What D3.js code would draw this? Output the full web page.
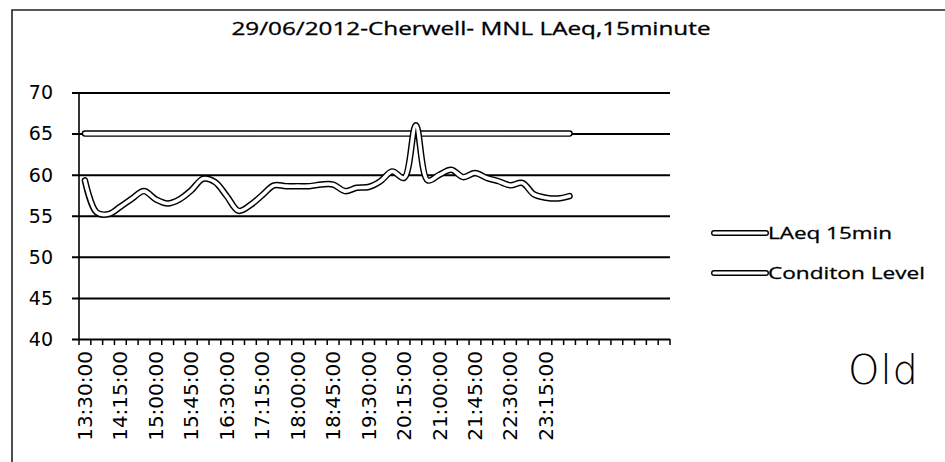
<!DOCTYPE html>
<html>
<head>
<meta charset="utf-8">
<script src="https://cdn.jsdelivr.net/npm/d3@7"></script>
<style>
  body { margin: 0; background: #fff; }
  text { fill: #000; }
</style>
</head>
<body>
<div id="chart"></div>
<script>
/*=====================================================================
 data
======================================================================*/
var chartTitle = "29/06/2012-Cherwell- MNL LAeq,15minute";

// time slots with data (15 minute steps)
var times = ["13:30:00", "13:45:00", "14:00:00", "14:15:00", "14:30:00", "14:45:00",
    "15:00:00", "15:15:00", "15:30:00", "15:45:00", "16:00:00", "16:15:00",
    "16:30:00", "16:45:00", "17:00:00", "17:15:00", "17:30:00", "17:45:00",
    "18:00:00", "18:15:00", "18:30:00", "18:45:00", "19:00:00", "19:15:00",
    "19:30:00", "19:45:00", "20:00:00", "20:15:00", "20:30:00", "20:45:00",
    "21:00:00", "21:15:00", "21:30:00", "21:45:00", "22:00:00", "22:15:00",
    "22:30:00", "22:45:00", "23:00:00", "23:15:00", "23:30:00", "23:45:00"];

// empty category cells at the end of the axis
var blankSlots = ["", "", "", "", "", "", "", ""];

var laeq = [59.3, 55.4, 55.2, 56.1, 57.1, 58.0, 57.0, 56.5, 57.0, 58.1,
    59.5, 59.1, 57.4, 55.6, 56.3, 57.5, 58.7, 58.6, 58.6, 58.6,
    58.8, 58.8, 58.0, 58.4, 58.5, 59.2, 60.4, 59.6, 66.0, 59.3,
    60.0, 60.6, 59.7, 60.2, 59.6, 59.2, 58.7, 59.0, 57.6, 57.2,
    57.1, 57.4];

var conditionLevel = [65, 65, 65, 65, 65, 65, 65, 65, 65, 65,
    65, 65, 65, 65, 65, 65, 65, 65, 65, 65,
    65, 65, 65, 65, 65, 65, 65, 65, 65, 65,
    65, 65, 65, 65, 65, 65, 65, 65, 65, 65,
    65, 65];

var yTicks = [40, 45, 50, 55, 60, 65, 70];
var seriesNames = ["LAeq 15min", "Conditon Level"];

/*=====================================================================
 setup
======================================================================*/
var width = 945, height = 462;
var plotLeft = 79, plotRight = 670, plotTop = 92.5, plotBottom = 339;

var categories = times.concat(blankSlots);

var svg = d3.select("#chart").append("svg")
    .attr("width", width)
    .attr("height", height);

var x = d3.scaleBand().domain(d3.range(categories.length)).range([plotLeft, plotRight]);
var y = d3.scaleLinear().domain([40, 70]).range([plotBottom, plotTop]);

// scanned frame (top + left edge only)
svg.append("path")
    .attr("d", "M12," + height + "V10H" + width)
    .attr("fill", "none")
    .attr("stroke", "#222")
    .attr("stroke-width", 1.6);

svg.append("text")
    .attr("x", 471)
    .attr("y", 35)
    .attr("text-anchor", "middle")
    .attr("font-family", "Open Sans")
    .attr("font-size", 18)
    .attr("stroke", "#000")
    .attr("stroke-width", 0.3)
    .attr("textLength", 479)
    .attr("lengthAdjust", "spacingAndGlyphs")
    .text(chartTitle);

/*=====================================================================
 gridlines + axes
======================================================================*/
var gy = svg.append("g")
    .attr("transform", "translate(" + plotRight + ",0)")
    .call(d3.axisLeft(y).tickValues(yTicks).tickSize(plotRight - plotLeft + 7).tickFormat(""));
gy.select(".domain").remove();
gy.selectAll("line").attr("stroke", "#000").attr("stroke-width", 2);

svg.selectAll(".ylab")
    .data(yTicks)
    .enter().append("text")
    .attr("class", "ylab")
    .attr("x", 53)
    .attr("y", function (d) { return y(d); })
    .attr("dy", "0.36em")
    .attr("text-anchor", "end")
    .attr("font-family", "DejaVu Sans")
    .attr("font-size", 19)
    .text(function (d) { return d; });

// y axis line
svg.append("line")
    .attr("x1", plotLeft).attr("x2", plotLeft)
    .attr("y1", plotTop).attr("y2", plotBottom)
    .attr("stroke", "#000").attr("stroke-width", 1.6);

// x axis ticks sit between categories
var boundaries = d3.range(categories.length + 1);
svg.selectAll(".xtick")
    .data(boundaries)
    .enter().append("line")
    .attr("class", "xtick")
    .attr("x1", function (d) { return plotLeft + d * x.step(); })
    .attr("x2", function (d) { return plotLeft + d * x.step(); })
    .attr("y1", plotBottom)
    .attr("y2", plotBottom + 6)
    .attr("stroke", "#000")
    .attr("stroke-width", 1.5);

var labelled = categories.map(function (c, i) { return { c: c, i: i }; })
    .filter(function (d) { return d.i % 3 === 0 && d.c !== ""; });

svg.selectAll(".xlab")
    .data(labelled)
    .enter().append("text")
    .attr("class", "xlab")
    .attr("transform", function (d) {
        return "translate(" + (x(d.i) + x.bandwidth() / 2 + 7) + "," + (plotBottom + 12) + ") rotate(-90)";
    })
    .attr("text-anchor", "end")
    .attr("font-family", "DejaVu Sans")
    .attr("font-size", 20)
    .text(function (d) { return d.c; });

/*=====================================================================
 series (drawn as outlined double lines, like the scan)
======================================================================*/
var line = d3.line()
    .x(function (d, i) { return x(i) + x.bandwidth() / 2; })
    .y(function (d) { return y(d); })
    .curve(d3.curveCatmullRom.alpha(0.5));

function doubleLine(sel, d, outer, inner) {
    sel.append("path")
        .attr("d", d)
        .attr("fill", "none")
        .attr("stroke", "#000")
        .attr("stroke-width", outer)
        .attr("stroke-linejoin", "round")
        .attr("stroke-linecap", "round");
    sel.append("path")
        .attr("d", d)
        .attr("fill", "none")
        .attr("stroke", "#fff")
        .attr("stroke-width", inner)
        .attr("stroke-linejoin", "round")
        .attr("stroke-linecap", "round");
}

var series = svg.append("g");
doubleLine(series, line(conditionLevel), 6.5, 3.6);
doubleLine(series, line(laeq), 6.5, 3.6);

/*=====================================================================
 legend
======================================================================*/
var legendY = [233, 273];
var legendLen = [124, 157];

seriesNames.forEach(function (name, i) {
    var g = svg.append("g");
    doubleLine(g, "M714," + legendY[i] + "H766", 6, 3.2);
    g.append("text")
        .attr("x", 768)
        .attr("y", legendY[i])
        .attr("dy", "0.35em")
        .attr("font-family", "Open Sans")
        .attr("font-size", 17)
        .attr("stroke", "#000")
        .attr("stroke-width", 0.3)
        .attr("textLength", legendLen[i])
        .attr("lengthAdjust", "spacingAndGlyphs")
        .text(name);
});

// handwritten note on the print
svg.append("text")
    .attr("x", 848)
    .attr("y", 384)
    .attr("font-family", "DejaVu Sans")
    .attr("font-weight", 200)
    .attr("font-size", 40)
    .attr("letter-spacing", 1)
    .text("Old");
</script>
</body>
</html>
